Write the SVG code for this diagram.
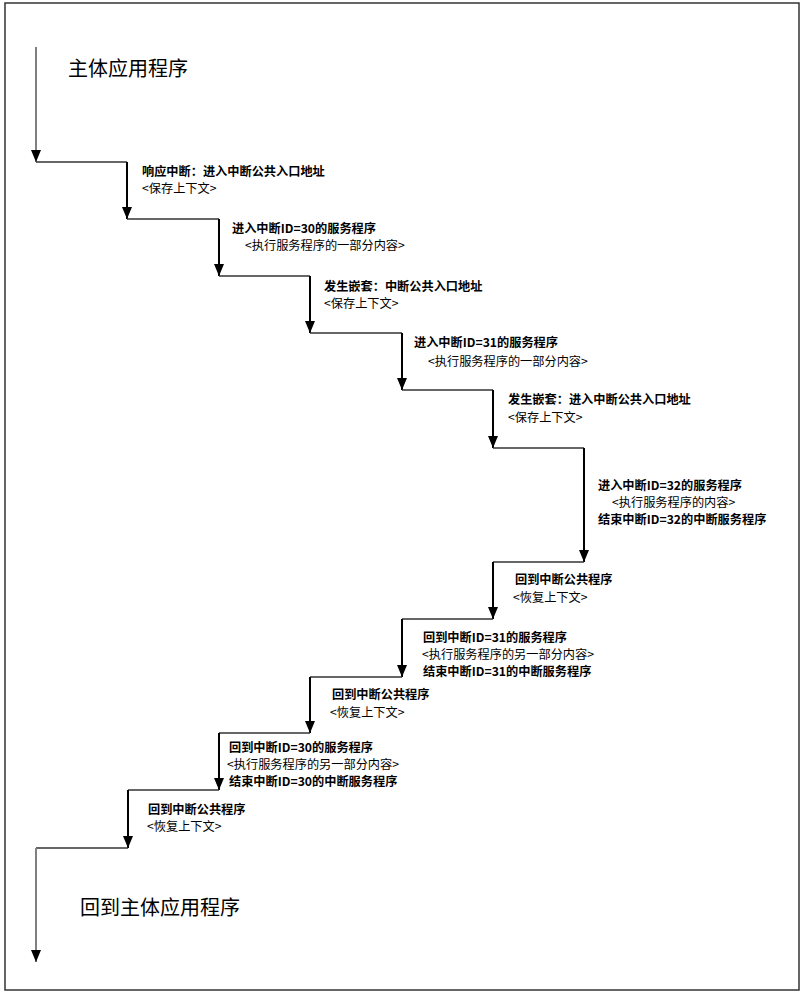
<svg xmlns="http://www.w3.org/2000/svg" width="807" height="1000" viewBox="0 0 807 1000">
<style>
.t{font-family:"Noto Sans CJK SC","Liberation Sans",sans-serif;font-size:12.2px;fill:#000}
.b{font-weight:bold}
.big{font-family:"Noto Sans CJK SC","Liberation Sans",sans-serif;font-size:20px;fill:#000}
.v{stroke:#000;stroke-width:2;fill:none}
.h{stroke:#333;stroke-width:1.5;fill:none}
.g{stroke:#808080;stroke-width:2;fill:none}
</style>
<defs>
<marker id="ah" markerUnits="userSpaceOnUse" markerWidth="12" markerHeight="10" refX="12" refY="5" orient="auto">
<path d="M0,0 L12,5 L0,10 z" fill="#000"/>
</marker>
</defs>
<rect x="5" y="3" width="794" height="987" fill="#fff" stroke="#333" stroke-width="1.5"/>
<g id="connectors">
<path class="g" d="M36,47 V162" marker-end="url(#ah)"/>
<path class="h" d="M36,162 H127"/>
<path class="v" d="M127,162 V219" marker-end="url(#ah)"/>
<path class="h" d="M127,219 H219"/>
<path class="v" d="M219,219 V276" marker-end="url(#ah)"/>
<path class="h" d="M219,276 H310"/>
<path class="v" d="M310,276 V333" marker-end="url(#ah)"/>
<path class="h" d="M310,333 H402"/>
<path class="v" d="M402,333 V390" marker-end="url(#ah)"/>
<path class="h" d="M402,390 H493"/>
<path class="v" d="M493,390 V448" marker-end="url(#ah)"/>
<path class="h" d="M493,448 H584"/>
<path class="v" d="M584,448 V562" marker-end="url(#ah)"/>
<path class="h" d="M584,562 H493"/>
<path class="v" d="M493,562 V619" marker-end="url(#ah)"/>
<path class="h" d="M493,619 H402"/>
<path class="v" d="M402,619 V677" marker-end="url(#ah)"/>
<path class="h" d="M402,677 H310"/>
<path class="v" d="M310,677 V733" marker-end="url(#ah)"/>
<path class="h" d="M310,733 H219"/>
<path class="v" d="M219,733 V790" marker-end="url(#ah)"/>
<path class="h" d="M219,790 H128"/>
<path class="v" d="M128,790 V848" marker-end="url(#ah)"/>
<path class="h" d="M128,848 H36"/>
<path class="g" d="M36,848 V962" marker-end="url(#ah)"/>
</g>
<g id="start"><text class="big" x="68" y="76">主体应用程序</text></g>
<g id="step1">
<text class="t b" x="142" y="176">响应中断：进入中断公共入口地址</text>
<text class="t" x="142" y="193">&lt;保存上下文&gt;</text>
</g>
<g id="step2">
<text class="t b" x="232" y="233">进入中断ID=30的服务程序</text>
<text class="t" x="245" y="250">&lt;执行服务程序的一部分内容&gt;</text>
</g>
<g id="step3">
<text class="t b" x="324" y="291">发生嵌套：中断公共入口地址</text>
<text class="t" x="324" y="308">&lt;保存上下文&gt;</text>
</g>
<g id="step4">
<text class="t b" x="414" y="347">进入中断ID=31的服务程序</text>
<text class="t" x="428" y="366">&lt;执行服务程序的一部分内容&gt;</text>
</g>
<g id="step5">
<text class="t b" x="508" y="404">发生嵌套：进入中断公共入口地址</text>
<text class="t" x="508" y="422">&lt;保存上下文&gt;</text>
</g>
<g id="step6">
<text class="t b" x="598" y="490">进入中断ID=32的服务程序</text>
<text class="t" x="612" y="507">&lt;执行服务程序的内容&gt;</text>
<text class="t b" x="598" y="524">结束中断ID=32的中断服务程序</text>
</g>
<g id="step7">
<text class="t b" x="515" y="584">回到中断公共程序</text>
<text class="t" x="513" y="602">&lt;恢复上下文&gt;</text>
</g>
<g id="step8">
<text class="t b" x="423" y="642">回到中断ID=31的服务程序</text>
<text class="t" x="422" y="659">&lt;执行服务程序的另一部分内容&gt;</text>
<text class="t b" x="423" y="676">结束中断ID=31的中断服务程序</text>
</g>
<g id="step9">
<text class="t b" x="332" y="699">回到中断公共程序</text>
<text class="t" x="330" y="717">&lt;恢复上下文&gt;</text>
</g>
<g id="step10">
<text class="t b" x="229" y="752">回到中断ID=30的服务程序</text>
<text class="t" x="227" y="769">&lt;执行服务程序的另一部分内容&gt;</text>
<text class="t b" x="229" y="786">结束中断ID=30的中断服务程序</text>
</g>
<g id="step11">
<text class="t b" x="148" y="814">回到中断公共程序</text>
<text class="t" x="147" y="831">&lt;恢复上下文&gt;</text>
</g>
<g id="end"><text class="big" x="80" y="915">回到主体应用程序</text></g>
</svg>
